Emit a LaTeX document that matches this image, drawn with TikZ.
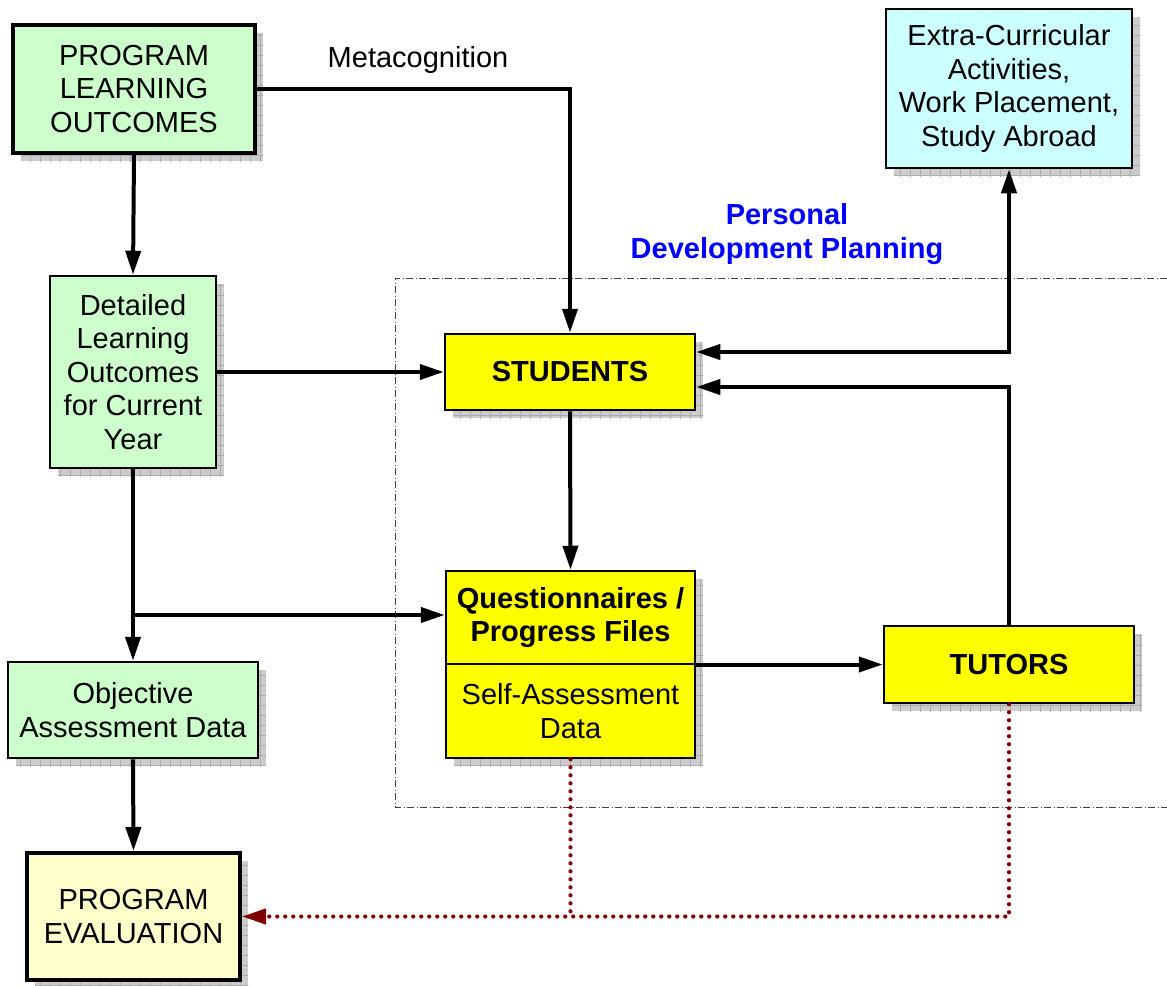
\documentclass[tikz,border=0pt]{standalone}
\usepackage{fontspec}
\setmainfont{Liberation Sans}
\usetikzlibrary{arrows.meta,shadows,calc,patterns.meta}
\definecolor{lgreen}{HTML}{CCFFCC}
\definecolor{lyellow}{HTML}{FFFFCC}
\definecolor{lcyan}{HTML}{CCFFFF}
\definecolor{dred}{HTML}{800000}
\definecolor{pdpblue}{HTML}{0000FF}
\definecolor{pyellow}{HTML}{FFFF00}
\begin{document}
\begin{tikzpicture}[x=1pt,y=-1pt,
  txt/.style={font=\fontsize{29}{33.5}\selectfont, align=center, inner sep=0pt},
  box/.style={txt, draw=black, line width=2.5pt, rectangle,
    drop shadow={shadow xshift=8pt, shadow yshift=-8pt, fill=gray!40, opacity=1,
      postaction={pattern={Hatch[distance=10pt,angle=0,line width=0.7pt]}, pattern color=gray!65}}},
  thickbox/.style={box, line width=4pt},
  arr/.style={line width=4pt, -{Triangle[length=24pt,width=15pt]}},
  arrboth/.style={line width=4pt, {Triangle[length=24pt,width=15pt]}-{Triangle[length=24pt,width=15pt]}},
  dotline/.style={draw=dred, line width=4.2pt, line cap=round, dash pattern=on 0pt off 8pt},
  dotarr/.style={dotline, -{Triangle[length=24pt,width=15pt]}, dred},
  frame/.style={draw=black!75, line width=1pt, dash pattern=on 7pt off 2.5pt on 1pt off 2.5pt}
]
\useasboundingbox (0,0) rectangle (1167,985);
\fill[white] (0,0) rectangle (1167,985);

% dash-dot PDP frame
\coordinate (f1) at (1167,278);
\coordinate (f2) at (395,278);
\coordinate (f3) at (395,807);
\coordinate (f4) at (1167,807);
\draw[frame] (f1) -- (f2) -- (f3) -- (f4);

% boxes
\node[thickbox, fill=lgreen, minimum width=242pt, minimum height=128pt] (plo) at (134,89) {PROGRAM\\LEARNING\\OUTCOMES};
\node[box, fill=lgreen, minimum width=166pt, minimum height=192pt] (det) at (133,372) {Detailed\\Learning\\Outcomes\\for Current\\Year};
\node[box, fill=lgreen, minimum width=250pt, minimum height=96pt] (obj) at (133,710) {Objective\\Assessment Data};
\node[thickbox, fill=lyellow, minimum width=213pt, minimum height=127pt] (pe) at (133.5,916.5) {PROGRAM\\EVALUATION};
\node[box, fill=pyellow, minimum width=250pt, minimum height=76pt, font=\fontsize{29}{33.5}\selectfont\bfseries] (stu) at (570,372) {STUDENTS};
\node[box, fill=pyellow, minimum width=249pt, minimum height=93pt, font=\fontsize{29}{33.5}\selectfont\bfseries] (qtop) at (570.5,617.5) {Questionnaires /\\Progress Files};
\node[box, fill=pyellow, minimum width=249pt, minimum height=94pt] (qbot) at (570.5,711) {Self-Assessment\\Data};
\node[box, fill=pyellow, minimum width=250pt, minimum height=77pt, font=\fontsize{29}{33.5}\selectfont\bfseries] (tut) at (1009,664.5) {TUTORS};
\node[box, fill=lcyan, minimum width=246pt, minimum height=159pt] (ext) at (1009,88.5) {Extra-Curricular\\Activities,\\Work Placement,\\Study Abroad};

% labels
\node[txt] (meta) at (418,60) {Metacognition};
\node[txt, text=pdpblue, font=\fontsize{29}{34}\selectfont\bfseries] (pdp) at (787,234) {Personal\\Development Planning};

% connectors
\draw[arr] (plo.east) -| (stu.north);
\draw[arr] (plo.south) -- (det.north);
\draw[arr] (det.east) -- (stu.west);
\draw[arr] (det.south) -- (obj.north);
\coordinate (br) at (133,615);
\draw[arr] (br) -- (br -| qtop.west);
\draw[arr] (obj.south) -- (pe.north);
\draw[arr] (stu.south) -- (qtop.north);
\draw[arr] (tut.west -| qtop.east) -- (tut.west);
\coordinate (slow) at ($(stu.east)+(0,15)$);
\coordinate (sup) at ($(stu.east)+(0,-20)$);
\draw[arr] (tut.north) |- (slow);
\draw[arrboth] (sup) -| (ext.south);

% dotted evaluation feedback
\coordinate (j) at (qbot.south |- pe.east);
\draw[dotline] (qbot.south) -- (j);
\draw[dotarr] (tut.south) |- (pe.east);
\end{tikzpicture}
\end{document}
